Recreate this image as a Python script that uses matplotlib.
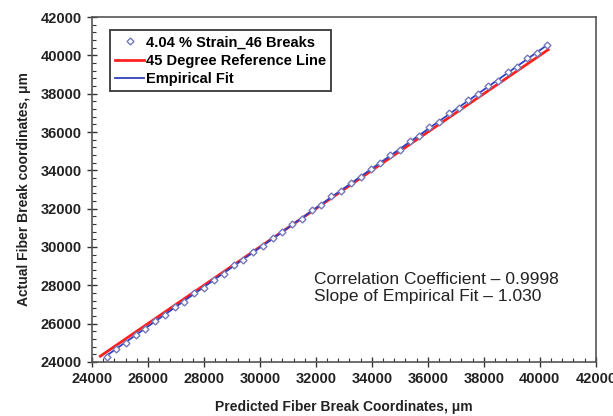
import numpy as np
import matplotlib.pyplot as plt
from matplotlib.ticker import MultipleLocator

plt.rcParams['font.family'] = ['Liberation Sans', 'DejaVu Sans']

# measured break positions (predicted vs actual), um
predicted = [24520, 24870, 25200, 25560, 25910, 26250, 26600, 26950, 27300, 27660,
             28000, 28350, 28700, 29060, 29400, 29750, 30100, 30450, 30800, 31150,
             31500, 31860, 32200, 32550, 32900, 33250, 33600, 33960, 34300, 34650,
             35000, 35350, 35700, 36050, 36400, 36760, 37100, 37450, 37800, 38150,
             38500, 38860, 39200, 39550, 39900, 40250]
actual = [24280, 24700, 24990, 25420, 25720, 26140, 26430, 26870, 27150, 27600,
          27880, 28300, 28580, 29050, 29300, 29760, 30040, 30480, 30760, 31190,
          31470, 31930, 32200, 32640, 32920, 33360, 33640, 34090, 34360, 34800,
          35080, 35530, 35800, 36250, 36520, 36980, 37240, 37690, 37970, 38410,
          38680, 39140, 39400, 39850, 40120, 40560]

ref_range = [24300, 40300]
fit_slope = 1.030
fit_intercept = -930
corr_coef = 0.9998

fig = plt.figure(figsize=(6.13, 4.16), dpi=100)
ax = fig.add_axes([0.150, 0.130, 0.822, 0.829])

ax.plot(predicted, actual, linestyle='none', marker='D', markersize=3.5,
        markerfacecolor='white', markeredgecolor='#7479b8', markeredgewidth=1.0,
        label='4.04 % Strain_46 Breaks', zorder=3)
ax.plot(ref_range, ref_range, color='#ff2020', linewidth=2.0,
        label='45 Degree Reference Line', zorder=2)
fx = np.array([predicted[0], predicted[-1]])
ax.plot(fx, fit_slope * fx + fit_intercept, color='#3040c0', linewidth=1.3,
        label='Empirical Fit', zorder=2.5)

ax.set_xlim(24000, 42000)
ax.set_ylim(24000, 42000)
ax.xaxis.set_major_locator(MultipleLocator(2000))
ax.yaxis.set_major_locator(MultipleLocator(2000))
ax.xaxis.set_minor_locator(MultipleLocator(400))
ax.yaxis.set_minor_locator(MultipleLocator(400))
ax.tick_params(which='major', direction='inout', length=7, width=1, color='#333333')
ax.tick_params(which='minor', direction='in', length=3, width=0.8, color='#333333')
ax.tick_params(labelsize=10.5, pad=4)
for lab in ax.get_xticklabels() + ax.get_yticklabels():
    lab.set_fontweight('bold')
    lab.set_color('#222222')

for s in ax.spines.values():
    s.set_color('#555555')
    s.set_linewidth(1.2)

ax.set_xlabel('Predicted Fiber Break Coordinates, \u03bcm', fontsize=10,
              fontweight='bold', color='#222222', labelpad=10)
ax.set_ylabel('Actual Fiber Break coordinates, \u03bcm', fontsize=10,
              fontweight='bold', color='#222222', labelpad=7)

leg = ax.legend(loc='upper left', bbox_to_anchor=(0.036, 0.962), borderaxespad=0,
                fancybox=False, prop={'weight': 'bold', 'size': 10.5},
                handlelength=2.0, handletextpad=0.1, borderpad=0.35,
                labelspacing=0.3, framealpha=1, edgecolor='#444444')
leg.get_frame().set_linewidth(1.4)

ax.text(0.44, 0.215, 'Correlation Coefficient \u2013 %.4f\nSlope of Empirical Fit \u2013 %.3f'
        % (corr_coef, fit_slope), transform=ax.transAxes, fontsize=12.5,
        color='#222222', linespacing=1.2, va='center')

fig.savefig('out.png', dpi=100)
